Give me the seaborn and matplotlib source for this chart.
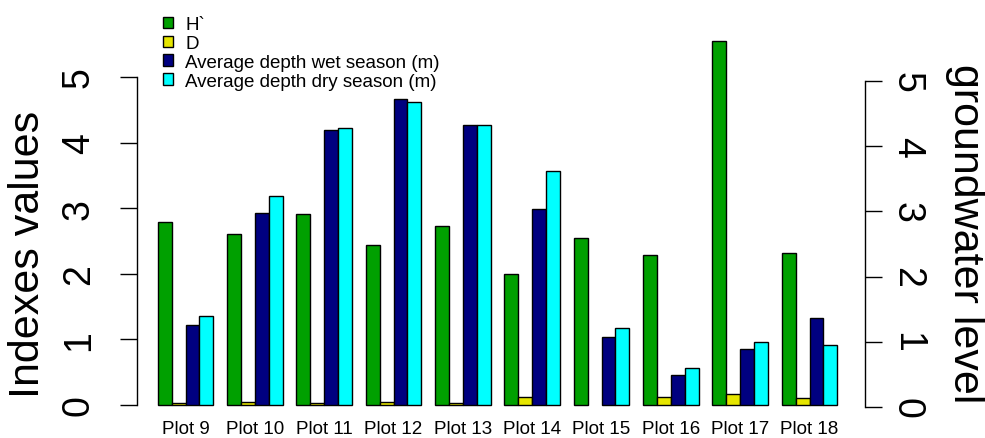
import numpy as np
import pandas as pd
import matplotlib
matplotlib.use("Agg")
import matplotlib.pyplot as plt
import seaborn as sns

# Values per plot
plots = ["Plot 9", "Plot 10", "Plot 11", "Plot 12", "Plot 13",
         "Plot 14", "Plot 15", "Plot 16", "Plot 17", "Plot 18"]
h_index = [2.79, 2.61, 2.91, 2.44, 2.73, 2.00, 2.54, 2.29, 5.55, 2.31]
d_index = [0.03, 0.05, 0.03, 0.05, 0.03, 0.12, np.nan, 0.12, 0.17, 0.11]
depth_wet = [1.22, 2.93, 4.19, 4.66, 4.27, 2.99, 1.03, 0.46, 0.86, 1.33]
depth_dry = [1.36, 3.19, 4.22, 4.62, 4.27, 3.57, 1.18, 0.56, 0.96, 0.91]

series = ["H`", "D", "Average depth wet season (m)", "Average depth dry season (m)"]
colors = ["#00A000", "#E6E600", "#000080", "#00FFFF"]

df = pd.DataFrame({
    "plot": plots * 4,
    "series": np.repeat(series, len(plots)),
    "value": h_index + d_index + depth_wet + depth_dry,
}).dropna()

sns.set_theme(style="white")
plt.rcParams["font.family"] = ["Liberation Sans", "DejaVu Sans"]
plt.rcParams["text.color"] = "black"
plt.rcParams["xtick.color"] = "black"
plt.rcParams["ytick.color"] = "black"
plt.rcParams["axes.labelcolor"] = "black"

W, H = 985, 439
fig, ax = plt.subplots(figsize=(W / 100, H / 100), dpi=100)
fig.subplots_adjust(left=137 / W, right=865 / W, bottom=(H - 410) / H, top=(H - 35) / H)

sns.barplot(data=df, x="plot", y="value", hue="series", order=plots,
            hue_order=series, palette=colors, saturation=1,
            edgecolor="black", linewidth=1, ax=ax)

ax.set_xlim(-0.70, 9.80)
ax.set_ylim(-0.061, 5.655)
ax.set_xlabel("")
ax.set_ylabel("")
for side in ("top", "right", "bottom"):
    ax.spines[side].set_visible(False)
ax.spines["left"].set_bounds(0, 5)
ax.spines["left"].set_color("black")
ax.spines["left"].set_linewidth(1)
ax.set_yticks(range(6))
ax.tick_params(axis="y", left=True, length=12.2, width=1, pad=16.6,
               labelsize=27, labelrotation=90, direction="out")
for lbl in ax.get_yticklabels():
    lbl.set_va("center")
ax.tick_params(axis="x", length=0, pad=8, labelsize=13.5)

# Right-hand axis for groundwater level
ax2 = ax.twinx()
ax2.set_ylim(-0.031, 5.721)
for side in ("top", "left", "bottom"):
    ax2.spines[side].set_visible(False)
ax2.spines["right"].set_bounds(0, 5)
ax2.spines["right"].set_color("black")
ax2.spines["right"].set_linewidth(1)
ax2.set_yticks(range(6))
ax2.tick_params(axis="y", right=True, length=12.2, width=1, pad=5,
                labelsize=27, labelrotation=-90, direction="out")
for lbl in ax2.get_yticklabels():
    lbl.set_va("center")
ax2.grid(False)

handles, labels = ax.get_legend_handles_labels()
if ax.get_legend() is not None:
    ax.get_legend().remove()
fig.legend(handles, labels, loc="upper left",
           bbox_to_anchor=(163 / W, 1 - 17 / H), bbox_transform=fig.transFigure,
           frameon=False, fontsize=13.5, handlelength=0.55, handleheight=0.55,
           handletextpad=0.64, labelspacing=0.1, borderpad=0, borderaxespad=0)

fig.text(28 / W, 1 - 254 / H, "Indexes values", rotation=90,
         fontsize=31, ha="center", va="center")
fig.text(965 / W, 1 - 234 / H, "groundwater level", rotation=-90,
         fontsize=31, ha="center", va="center")

fig.savefig("out.png", dpi=100)
